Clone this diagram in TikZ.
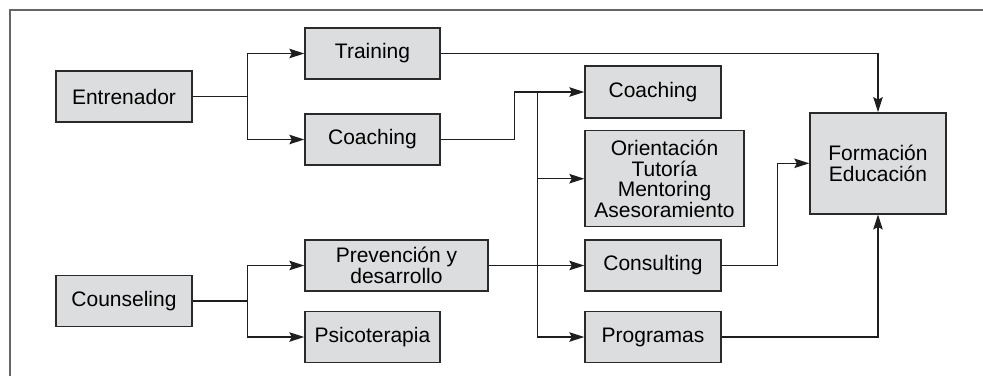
\documentclass[tikz,border=0pt]{standalone}
\usepackage{fontspec}
\setmainfont{Liberation Sans}
\usetikzlibrary{arrows.meta}
\definecolor{boxfill}{HTML}{DCDDDE}
\definecolor{boxline}{HTML}{2A2A2A}
\definecolor{frameline}{HTML}{666666}
\definecolor{conn}{HTML}{1E1E1E}
\tikzset{
  box/.style={draw=boxline, fill=boxfill, line width=1.4pt, rectangle, inner sep=0pt,
    align=center, font=\fontsize{21}{20.5}\selectfont},
  link/.style={draw=conn, line width=1.2pt},
  arr/.style={link, -{Stealth[length=15pt,width=9.5pt,inset=2.5pt]}}
}
\begin{document}
\begin{tikzpicture}[x=1pt,y=-1pt]
\useasboundingbox (0,0) rectangle (983,376);
\draw[frameline, line width=2pt] (9.5,376) -- (9.5,9.5) -- (983,9.5);

\node[box, minimum width=136pt, minimum height=51pt] (entr) at (124,96.5) {Entrenador};
\node[box, minimum width=135pt, minimum height=51pt] (train) at (372.5,53.5) {Training};
\node[box, minimum width=135pt, minimum height=51pt] (coach1) at (372.5,139.5) {Coaching};
\node[box, minimum width=136pt, minimum height=52pt] (coach2) at (653,92) {Coaching};
\node[box, minimum width=159pt, minimum height=96pt] (orient) at (664.5,178.7) {Orientación\\Tutoría\\Mentoring\\Asesoramiento};
\node[box, minimum width=136pt, minimum height=101pt] (form) at (878,163.3) {Formación\\Educación};
\node[box, minimum width=136pt, minimum height=51pt] (couns) at (124,301) {Counseling};
\node[box, minimum width=183pt, minimum height=51pt] (prev) at (396.5,265.5) {Prevención y\\desarrollo};
\node[box, minimum width=135pt, minimum height=51pt] (psico) at (372.5,337) {Psicoterapia};
\node[box, minimum width=136pt, minimum height=51pt] (consult) at (653,265.5) {Consulting};
\node[box, minimum width=136pt, minimum height=51pt] (prog) at (653,337) {Programas};

\coordinate (j1) at (247.7,96.5);
\coordinate (j2) at (247.7,301);
\coordinate (b) at (537.7,92);

\draw[link] (entr.east) -- (j1);
\draw[arr] (j1) |- (train.west);
\draw[arr] (j1) |- (coach1.west);
\draw[arr] (train.east) -| (form.north);
\draw[arr] (coach1.east) -- ++(74,0) |- (coach2.west);
\draw[arr] (b) |- (orient.west);
\draw[arr] (b) |- (prog.west);
\draw[link] (couns.east) -- (j2);
\draw[arr] (j2) |- (prev.west);
\draw[arr] (j2) |- (psico.west);
\draw[arr] (prev.east) -- (consult.west);
\draw[arr] (consult.east) -- ++(55.7,0) |- (form.west);
\draw[arr] (prog.east) -| (form.south);
\end{tikzpicture}
\end{document}
